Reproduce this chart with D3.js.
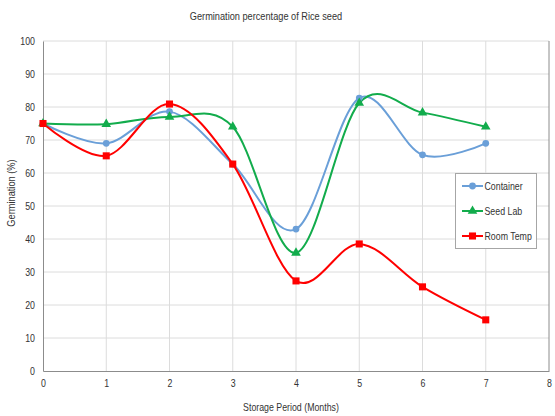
<!DOCTYPE html>
<html>
<head>
<meta charset="utf-8">
<script src="https://cdn.jsdelivr.net/npm/d3@7"></script>
<style>
  body { margin: 0; background: #fff; }
  svg { display: block; font-family: "Liberation Sans", Arial, sans-serif; }
</style>
</head>
<body>
<svg id="chart" width="555" height="416"></svg>
<script>
// Storage period (months) and germination percentages per storage condition
const months = [0, 1, 2, 3, 4, 5, 6, 7];
const container = [75, 69, 78.6, 62.7, 43, 82.7, 65.5, 69];
const seedLab = [75, 74.8, 77, 74, 35.8, 81.2, 78.3, 74];
const roomTemp = [75, 65.2, 80.9, 62.7, 27.3, 38.5, 25.5, 15.5];
const xTicks = [0, 1, 2, 3, 4, 5, 6, 7, 8];
const yTicks = [0, 10, 20, 30, 40, 50, 60, 70, 80, 90, 100];

const series = [
  { name: "Container", values: container, color: "#6a9fd8", marker: "circle" },
  { name: "Seed Lab", values: seedLab, color: "#12ac4c", marker: "triangle" },
  { name: "Room Temp", values: roomTemp, color: "#ff0000", marker: "square" }
];

const FONT = "Liberation Sans, Arial, sans-serif";
const svg = d3.select("#chart");
const x = d3.scaleLinear().domain([0, 8]).range([43, 549]);
const y = d3.scaleLinear().domain([0, 100]).range([371, 41]);

// Condensed look: squeeze glyphs horizontally to ~80% of their natural width
function condense(sel, k = 0.8) {
  sel.each(function () {
    const w = this.getComputedTextLength();
    d3.select(this).attr("textLength", w * k).attr("lengthAdjust", "spacingAndGlyphs");
  });
}

// Grid lines
svg.append("g").selectAll("line").data(yTicks.filter(d => d > 0)).join("line")
  .attr("x1", x(0)).attr("x2", x(8))
  .attr("y1", d => y(d)).attr("y2", d => y(d))
  .attr("stroke", "#dcdcdc").attr("stroke-width", 1);
svg.append("g").selectAll("line").data(xTicks.filter(d => d > 0 && d < 8)).join("line")
  .attr("x1", d => x(d)).attr("x2", d => x(d))
  .attr("y1", y(0)).attr("y2", y(100))
  .attr("stroke", "#dcdcdc").attr("stroke-width", 1);

// Axes
const xAxis = d3.axisBottom(x).tickValues(xTicks).tickSize(0).tickPadding(8);
const yAxis = d3.axisLeft(y).tickValues(yTicks).tickSize(0).tickPadding(8);
const gx = svg.append("g").attr("transform", `translate(0,${y(0)})`).call(xAxis);
const gy = svg.append("g").attr("transform", `translate(${x(0)},0)`).call(yAxis);
[gx, gy].forEach(g => {
  g.select(".domain").attr("stroke", "#8c8c8c");
  g.selectAll("text").attr("fill", "#333").attr("font-size", 11)
    .attr("font-family", FONT).call(condense);
});
// Right frame edge
svg.append("line").attr("x1", x(8)).attr("x2", x(8)).attr("y1", y(0)).attr("y2", y(100))
  .attr("stroke", "#8c8c8c");

// Titles
svg.append("text").attr("x", 266).attr("y", 20).attr("text-anchor", "middle")
  .attr("font-size", 11.5).attr("fill", "#333").text("Germination  percentage of Rice seed")
  .call(condense);
svg.append("text").attr("x", 291).attr("y", 411).attr("text-anchor", "middle")
  .attr("font-size", 11).attr("fill", "#333").text("Storage Period (Months)")
  .call(condense);
svg.append("text").attr("transform", `translate(15,193) rotate(-90)`)
  .attr("text-anchor", "middle").attr("font-size", 11).attr("fill", "#333")
  .text("Germination (%)").call(condense, 0.84);

// Smoothed series lines
const line = d3.line()
  .x((d, i) => x(months[i]))
  .y(d => y(d))
  .curve(d3.curveCardinal.tension(0));

const symbols = {
  circle: d3.symbol().type(d3.symbolCircle).size(36),
  triangle: d3.symbol().type(d3.symbolTriangle).size(40),
  square: d3.symbol().type(d3.symbolSquare).size(50)
};

series.forEach(s => {
  svg.append("path").datum(s.values).attr("d", line)
    .attr("fill", "none").attr("stroke", s.color).attr("stroke-width", 2);
});
series.forEach(s => {
  svg.append("g").selectAll("path").data(s.values).join("path")
    .attr("transform", (d, i) => `translate(${x(months[i])},${y(d)})`)
    .attr("d", symbols[s.marker]())
    .attr("fill", s.color);
});

// Legend
const legend = svg.append("g");
legend.append("rect").attr("x", 455.5).attr("y", 173.5).attr("width", 81).attr("height", 75)
  .attr("fill", "#fff").attr("stroke", "#a6a6a6");
series.forEach((s, i) => {
  const ly = 186 + i * 25;
  legend.append("line").attr("x1", 462).attr("x2", 483).attr("y1", ly).attr("y2", ly)
    .attr("stroke", s.color).attr("stroke-width", 2);
  legend.append("path").attr("transform", `translate(472.5,${ly})`)
    .attr("d", symbols[s.marker]()).attr("fill", s.color);
  legend.append("text").attr("x", 484.5).attr("y", ly + 4).attr("font-size", 11)
    .attr("fill", "#333").text(s.name).call(condense);
});
</script>
</body>
</html>
